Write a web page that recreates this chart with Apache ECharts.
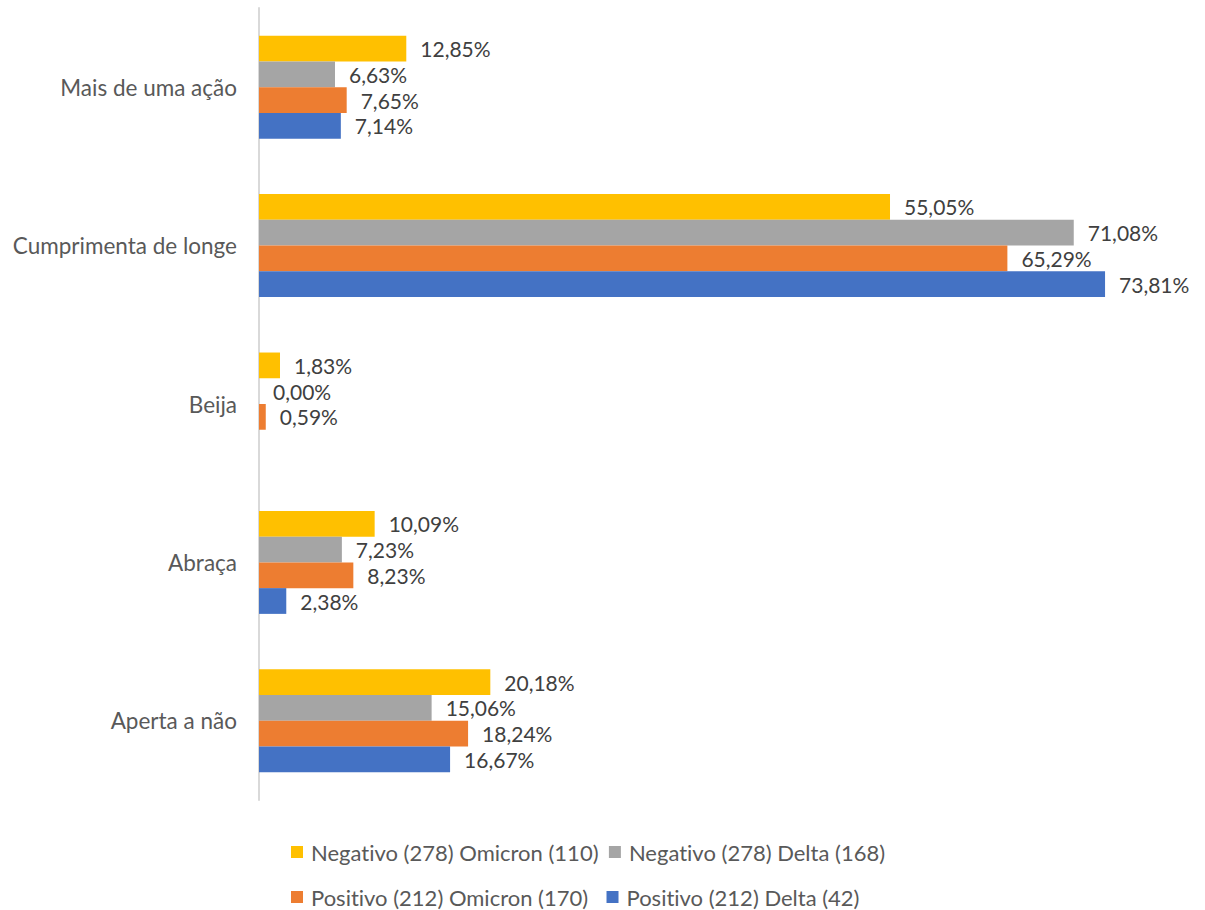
<!DOCTYPE html>
<html>
<head>
<meta charset="utf-8">
<script src="https://cdn.jsdelivr.net/npm/echarts@6/dist/echarts.min.js"></script>
<style>
  html, body { margin: 0; padding: 0; background: #fff; }
  #chart { width: 1205px; height: 910px; }
  /* plain letter pairs (no "ti" ligature) */
  #chart text { font-variant-ligatures: none !important; }
</style>
</head>
<body>
<div id="chart"></div>
<script>
// Categories, listed top to bottom
const categories = ['Mais de uma ação', 'Cumprimenta de longe', 'Beija', 'Abraça', 'Aperta a não'];

// Series names
const seriesNames = [
  'Negativo (278) Omicron (110)',
  'Negativo (278) Delta (168)',
  'Positivo (212) Omicron (170)',
  'Positivo (212) Delta (42)'
];

// Percentages per category (null = no value reported)
const negOmicron = [12.85, 55.05, 1.83, 10.09, 20.18];
const negDelta   = [6.63, 71.08, 0.00, 7.23, 15.06];
const posOmicron = [7.65, 65.29, 0.59, 8.23, 18.24];
const posDelta   = [7.14, 73.81, null, 2.38, 16.67];

const colors = ['#FFC000', '#A5A5A5', '#ED7D31', '#4472C4'];
const FONT = 'Lato';

const chart = echarts.init(document.getElementById('chart'), null, { renderer: 'svg' });

const fmt = p => p.value == null ? '' : p.value.toFixed(2).replace('.', ',') + '%';

const makeSeries = (name, data, color) => ({
  name: name,
  type: 'bar',
  data: data,
  barGap: '0%',
  barCategoryGap: '35%',
  itemStyle: { color: color },
  label: {
    show: true,
    position: 'right',
    distance: 14,
    formatter: fmt,
    color: '#404040',
    fontSize: 21,
    fontFamily: FONT,
    padding: [0, 0, 2, 0]
  },
  emphasis: { disabled: true }
});

const legendBase = {
  icon: 'rect',
  itemWidth: 12,
  itemHeight: 12,
  left: 286,
  textStyle: { color: '#595959', fontSize: 22, lineHeight: 24, fontFamily: FONT, padding: [0, 0, 2, 3] }
};

chart.setOption({
  animation: false,
  color: colors,
  grid: { left: 259, right: 29, top: 8, bottom: 110, containLabel: false },
  xAxis: {
    type: 'value',
    min: 0,
    max: 80,
    show: false
  },
  yAxis: {
    type: 'category',
    data: categories,
    inverse: true,
    axisLine: { show: true, lineStyle: { color: '#D9D9D9', width: 2 } },
    axisTick: { show: false },
    axisLabel: { color: '#595959', fontSize: 22.5, fontFamily: FONT, margin: 22, padding: [0, 0, 2, 0] }
  },
  legend: [
    Object.assign({}, legendBase, { top: 834, itemGap: 10, data: [seriesNames[0], seriesNames[1]] }),
    Object.assign({}, legendBase, { top: 879, itemGap: 18, data: [seriesNames[2], seriesNames[3]] })
  ],
  series: [
    makeSeries(seriesNames[0], negOmicron, colors[0]),
    makeSeries(seriesNames[1], negDelta, colors[1]),
    makeSeries(seriesNames[2], posOmicron, colors[2]),
    makeSeries(seriesNames[3], posDelta, colors[3])
  ]
});
</script>
</body>
</html>
